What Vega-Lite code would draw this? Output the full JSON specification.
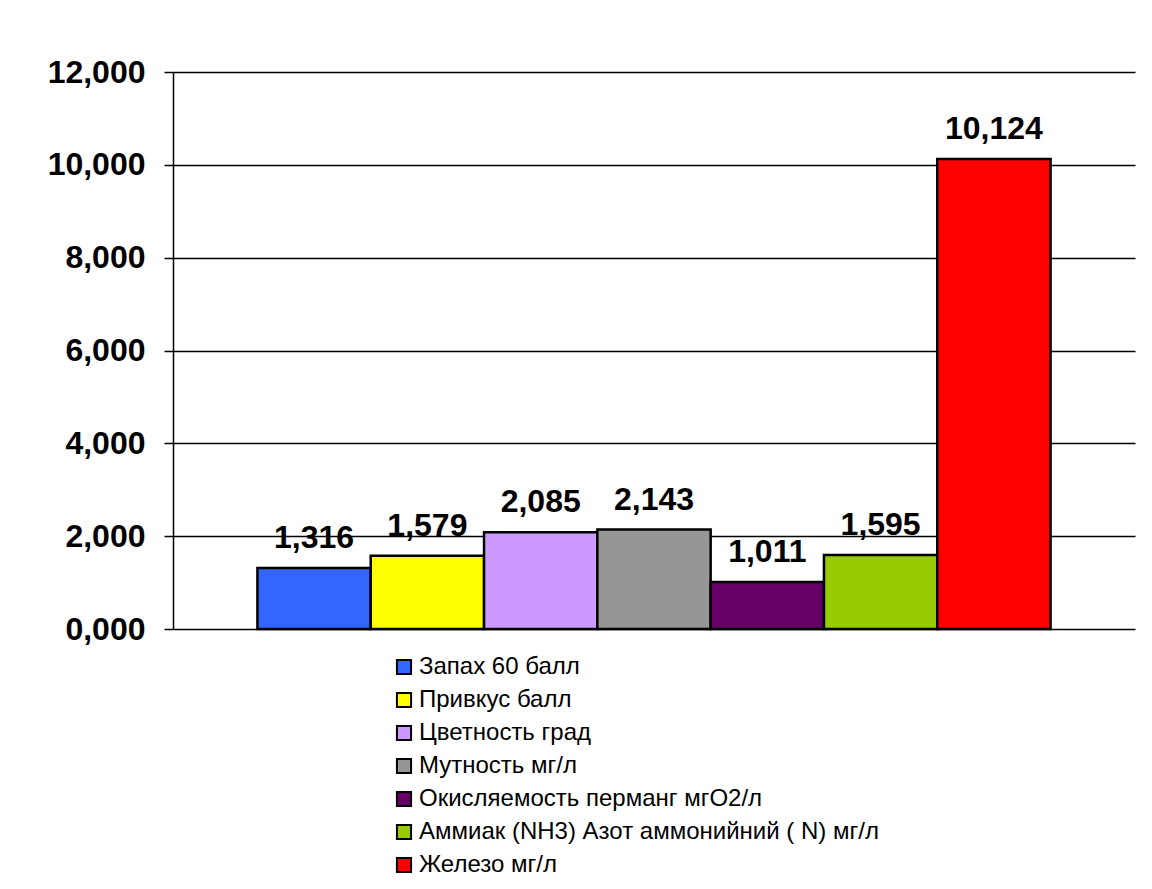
{
  "$schema": "https://vega.github.io/schema/vega-lite/v6.json",
  "autosize": {"type": "none"},
  "padding": {"left": 173, "top": 72, "right": 17, "bottom": 260},
  "width": 962,
  "height": 557,
  "background": "white",
  "config": {
    "locale": {"number": {"decimal": ",", "thousands": " ", "grouping": [3], "currency": ["", ""]}},
    "view": {"stroke": null},
    "font": "Liberation Sans"
  },
  "data": {
    "values": [
      {"name": "Запах 60 балл", "value": 1.316},
      {"name": "\u00a0Привкус балл", "value": 1.579},
      {"name": "Цветность град", "value": 2.085},
      {"name": "Мутность мг/л", "value": 2.143},
      {"name": "Окисляемость перманг мгО2/л", "value": 1.011},
      {"name": "Аммиак (NH3) Азот аммонийний ( N) мг/л", "value": 1.595},
      {"name": "Железо мг/л", "value": 10.124}
    ]
  },
  "encoding": {
    "x": {
      "field": "name",
      "type": "nominal",
      "sort": null,
      "scale": {"paddingInner": 0, "paddingOuter": 0.745},
      "axis": null
    },
    "y": {
      "field": "value",
      "type": "quantitative",
      "scale": {"domain": [0, 12], "nice": false},
      "axis": {
        "title": null,
        "values": [0, 2, 4, 6, 8, 10, 12],
        "format": ".3f",
        "labelFont": "Liberation Sans",
        "labelFontWeight": "bold",
        "labelFontSize": 32,
        "labelColor": "black",
        "labelPadding": 19,
        "tickSize": 9,
        "tickColor": "black",
        "tickWidth": 1.5,
        "domainColor": "black",
        "domainWidth": 1.5,
        "grid": true,
        "gridColor": "black",
        "gridWidth": 1.5,
        "gridOpacity": 1
      }
    }
  },
  "layer": [
    {
      "mark": {"type": "bar", "stroke": "black", "strokeWidth": 2.5, "cornerRadius": 0},
      "encoding": {
        "color": {
          "field": "name",
          "type": "nominal",
          "sort": null,
          "scale": {
            "domain": ["Запах 60 балл", "\u00a0Привкус балл", "Цветность град", "Мутность мг/л", "Окисляемость перманг мгО2/л", "Аммиак (NH3) Азот аммонийний ( N) мг/л", "Железо мг/л"],
            "range": ["#3366FF", "#FFFF00", "#CC99FF", "#969696", "#660066", "#99CC00", "#FF0000"]
          },
          "legend": {
            "title": null,
            "orient": "none",
            "legendX": 219,
            "legendY": 583,
            "direction": "vertical",
            "columns": 1,
            "symbolType": "square",
            "symbolSize": 200,
            "symbolStrokeColor": "black",
            "symbolStrokeWidth": 2,
            "symbolOpacity": 1,
            "labelFont": "Liberation Sans",
            "labelFontSize": 24,
            "labelColor": "black",
            "labelOffset": 3,
            "labelLimit": 800,
            "rowPadding": 9
          }
        }
      }
    },
    {
      "mark": {"type": "text", "font": "Liberation Sans", "fontWeight": "bold", "fontSize": 32, "color": "black", "baseline": "alphabetic", "dy": -20},
      "encoding": {
        "text": {"field": "value", "type": "quantitative", "format": ".3f"}
      }
    }
  ]
}
